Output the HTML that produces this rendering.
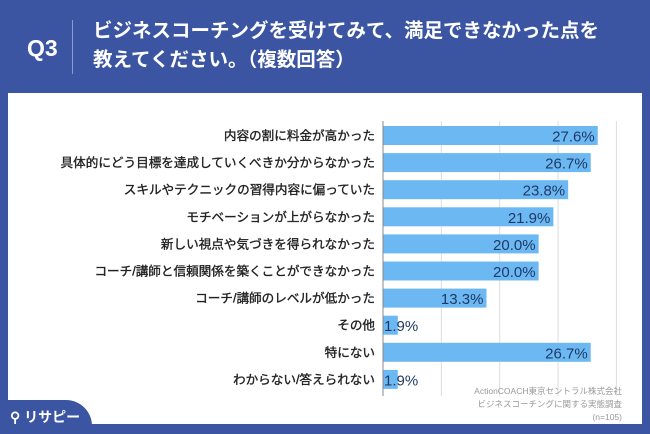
<!DOCTYPE html>
<html><head><meta charset="utf-8"><style>
body{margin:0;width:650px;height:434px;overflow:hidden;background:#3b55a2;font-family:"Liberation Sans","Noto Sans CJK JP",sans-serif;position:relative}
.panel{position:absolute;left:8px;top:93px;width:634px;height:331px;background:#fff}
.q{position:absolute;left:27px;top:35px;color:#fff;font-size:23px;font-weight:bold}
.sep{position:absolute;left:72px;top:20px;width:1px;height:54px;background:#8c9ccc}
.title{position:absolute;left:93px;top:17px;color:#fff;font-size:19.5px;font-weight:bold;line-height:29px;white-space:nowrap}
.tab{position:absolute;left:0;top:400px;width:92px;height:34px;background:#3b55a2;border-top-right-radius:26px}
.logo{position:absolute;left:10px;top:407px;color:#fff;font-size:14px;font-weight:bold}
.src{position:absolute;right:28px;top:385px;color:#999;font-size:8.5px;text-align:right;line-height:13px}
</style></head><body>
<div class="q">Q3</div>
<div class="sep"></div>
<div class="title">ビジネスコーチングを受けてみて、満足できなかった点を<br>教えてください。（複数回答）</div>
<div class="panel"></div>
<svg id="chart" width="650" height="434" style="position:absolute;left:0;top:0"></svg>
<div class="src">ActionCOACH東京セントラル株式会社<br>ビジネスコーチングに関する実態調査<br>(n=105)</div>
<div class="tab"></div>
<div class="logo">⚲ リサピー</div>
<script>
const categories=["内容の割に料金が高かった","具体的にどう目標を達成していくべきか分からなかった","スキルやテクニックの習得内容に偏っていた","モチベーションが上がらなかった","新しい視点や気づきを得られなかった","コーチ/講師と信頼関係を築くことができなかった","コーチ/講師のレベルが低かった","その他","特にない","わからない/答えられない"];
const values=[27.6,26.7,23.8,21.9,20.0,20.0,13.3,1.9,26.7,1.9];
const gridTicks=[7.5,15,22.5,30];
const NS="http://www.w3.org/2000/svg";
const svg=document.getElementById('chart');
const x0=383,scale=7.78,y0=126,step=27.1,bh=19;
const xs=v=>x0+v*scale;
function mk(t,a){const e=document.createElementNS(NS,t);for(const k in a)e.setAttribute(k,a[k]);svg.appendChild(e);return e;}
gridTicks.forEach(g=>{
const l=mk('line',{x1:xs(g),x2:xs(g),y1:121,y2:396,stroke:'#ddd','stroke-width':1});


});
values.forEach((v,i)=>{
const y=y0+i*step;
const r=mk('rect',{x:x0,y:y,width:v*scale,height:bh,fill:'#6cb8f2'});


const small=v*scale<40;
const t=mk('text',{x:small?x0+1:xs(v)-3,y:y+15.5,'text-anchor':small?'start':'end','font-size':15,fill:'#1f3a66'});
t.textContent=v.toFixed(1)+'%';


const c=mk('text',{x:x0-8,y:y+14,'text-anchor':'end','font-size':12.6,fill:'#222',stroke:'#222','stroke-width':0.35});
c.textContent=categories[i];


});
const ax=mk('line',{x1:x0,x2:x0,y1:121,y2:396,stroke:'#888','stroke-width':1});


</script>
</body></html>
